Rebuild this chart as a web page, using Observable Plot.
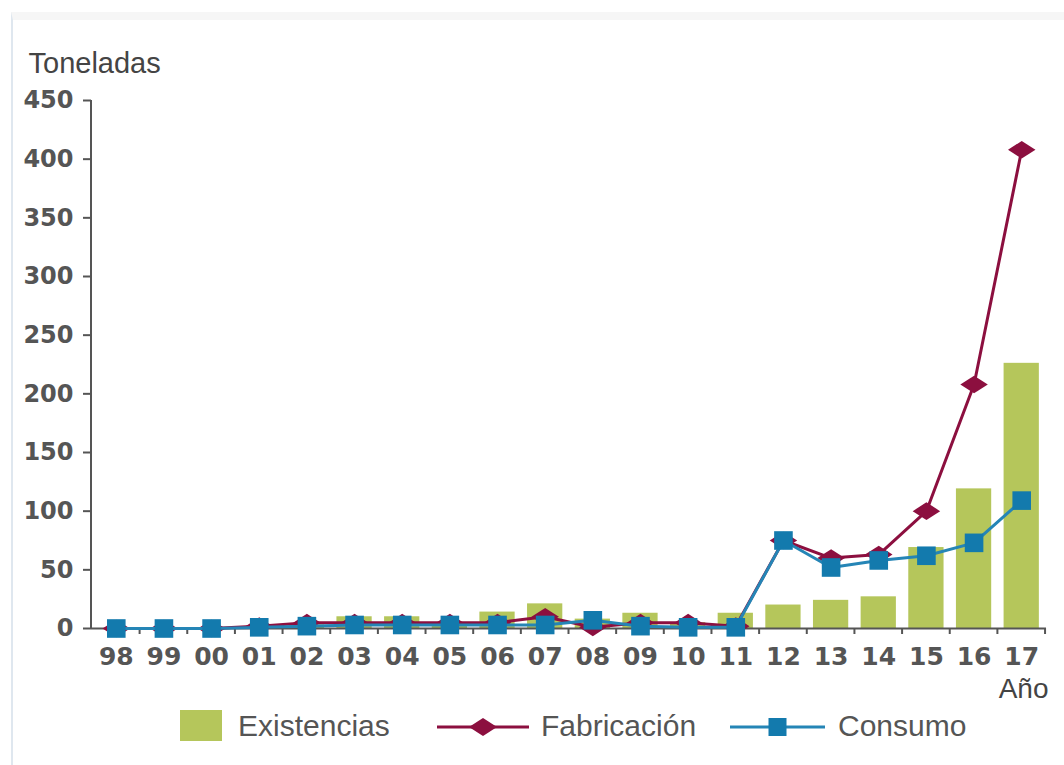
<!DOCTYPE html>
<html><head><meta charset="utf-8">
<script src="https://cdn.jsdelivr.net/npm/d3@7"></script>
<script src="https://cdn.jsdelivr.net/npm/@observablehq/plot@0.6"></script>
<style>
body{margin:0;background:#fff;width:1064px;height:765px;overflow:hidden;position:relative;font-family:"Liberation Sans",Arial,sans-serif}
#chart{position:absolute;left:0;top:0}
#frame{position:absolute;left:11px;top:12px;width:1053px;height:760px;border-left:2px solid #dfe7ef;border-top:8px solid #f6f6f6}
.lg{position:absolute;font-size:30px;line-height:34px;color:#555;white-space:nowrap}
</style></head><body>
<div id="frame"></div>
<div id="chart"></div>
<div id="legend"></div>
<script>
const years = ["98","99","00","01","02","03","04","05","06","07","08","09","10","11","12","13","14","15","16","17"];
const existencias = [0, 0, 0, 1, 3, 10, 10, 5, 14, 21, 8, 13, 5, 13, 20, 24, 27, 69, 119, 226];
const fabricacion = [0, 0, 0, 2, 5, 5, 5, 5, 5, 10, 1, 5, 5, 2, 75, 60, 63, 100, 208, 408];
const consumo = [0, 0, 0, 1, 2, 3, 3, 3, 3, 3, 7, 2, 1, 1, 75, 52, 58, 62, 73, 109];
const yTicks = [0, 50, 100, 150, 200, 250, 300, 350, 400, 450];
const seriesNames = ["Existencias", "Fabricación", "Consumo"];
const colors = ["#b5c65b", "#8c0f3f", "#137aad"];
const yTitle = "Toneladas";
const xTitle = "Año";

const data = years.map((y, i) => ({year: y, existencias: existencias[i], fabricacion: fabricacion[i], consumo: consumo[i]}));

const wideDiamond = {draw(ctx, size) {
  const r = Math.sqrt(size / Math.PI), w = r * 1.25, h = r * 0.8;
  ctx.moveTo(0, -h); ctx.lineTo(w, 0); ctx.lineTo(0, h); ctx.lineTo(-w, 0); ctx.closePath();
}};

const NS = "http://www.w3.org/2000/svg";
function leftAxisLine(index, scales, values, dims) {
  const g = document.createElementNS(NS, "g");
  const l = document.createElementNS(NS, "line");
  const y0 = scales.y(0), y1 = scales.y(450);
  l.setAttribute("x1", dims.marginLeft); l.setAttribute("x2", dims.marginLeft);
  l.setAttribute("y1", y0); l.setAttribute("y2", y1);
  l.setAttribute("stroke", "#555"); l.setAttribute("stroke-width", 2);
  g.appendChild(l);
  return g;
}
function bandTicks(index, scales, values, dims) {
  const g = document.createElementNS(NS, "g");
  const x = scales.x, y0 = scales.y(0);
  const bw = x.bandwidth ? x.bandwidth() : 35;
  const step = x.step ? x.step() : 47.5;
  const edges = years.map(d => x(d) - (step - bw) / 2);
  edges.push(x(years[years.length - 1]) + bw + (step - bw) / 2);
  for (const e of edges.slice(1)) {
    const l = document.createElementNS(NS, "line");
    l.setAttribute("x1", e); l.setAttribute("x2", e);
    l.setAttribute("y1", y0); l.setAttribute("y2", y0 + 6);
    l.setAttribute("stroke", "#555"); l.setAttribute("stroke-width", 2);
    g.appendChild(l);
  }
  return g;
}

const plot = Plot.plot({
  width: 1064, height: 700,
  marginTop: 100, marginBottom: 72, marginLeft: 91, marginRight: 18,
  style: {fontFamily: "DejaVu Sans", fontWeight: "bold", color: "#555", background: "transparent", overflow: "visible"},
  x: {type: "band", domain: years, paddingInner: 0.26, paddingOuter: 0.15, round: false, label: null},
  y: {domain: [0, 450], label: null},
  marks: [
    Plot.barY(data, {x: "year", y: "existencias", fill: colors[0]}),
    Plot.ruleY([0], {stroke: "#555", strokeWidth: 2}),
    leftAxisLine,
    bandTicks,
    Plot.axisY({ticks: yTicks, tickSize: 8, tickPadding: 10, fontSize: 24, strokeWidth: 2, label: null}),
    Plot.axisX({tickSize: 0, tickPadding: 19, fontSize: 25, label: null}),
    Plot.line(data, {x: "year", y: "fabricacion", stroke: colors[1], strokeWidth: 3}),
    Plot.dot(data, {x: "year", y: "fabricacion", symbol: wideDiamond, r: 11, fill: colors[1], stroke: "none"}),
    Plot.line(data, {x: "year", y: "consumo", stroke: "#2585b6", strokeWidth: 3}),
    Plot.dot(data, {x: "year", y: "consumo", symbol: "square", r: 10.5, fill: colors[2], stroke: "none"}),
    Plot.text([yTitle], {frameAnchor: "top-left", dx: -63, dy: -48, textAnchor: "start", fontSize: 29, fontWeight: "normal", fill: "#444", fontFamily: "Liberation Sans"}),
    Plot.text([xTitle], {frameAnchor: "bottom-right", dx: 2, dy: 69, textAnchor: "end", fontSize: 28, fontWeight: "normal", fill: "#444", fontFamily: "Liberation Sans"})
  ]
});
document.getElementById("chart").appendChild(plot);

// legend
const lg = document.getElementById("legend");
const items = [
  {sw: 180, tx: 238, kind: "bar"},
  {sw: 437, tx: 541, kind: "diamond"},
  {sw: 730, tx: 838, kind: "square"}
];
items.forEach((it, i) => {
  const s = document.createElement("div");
  s.style.position = "absolute";
  if (it.kind === "bar") {
    s.style.left = it.sw + "px"; s.style.top = "710px";
    s.style.width = "42px"; s.style.height = "31px"; s.style.background = colors[0];
  } else {
    const w = it.kind === "diamond" ? 92 : 95;
    s.style.left = it.sw + "px"; s.style.top = "712px";
    const c = it.kind === "diamond" ? colors[1] : "#2585b6";
    const mk = it.kind === "diamond"
      ? `<path d="M${w/2-14},15 L${w/2},6 L${w/2+14},15 L${w/2},24 Z" fill="${colors[1]}"/>`
      : `<rect x="${w/2-9}" y="6" width="18" height="18" fill="${colors[2]}"/>`;
    s.innerHTML = `<svg width="${w}" height="30"><line x1="0" x2="${w}" y1="15" y2="15" stroke="${c}" stroke-width="3"/>${mk}</svg>`;
  }
  lg.appendChild(s);
  const t = document.createElement("div");
  t.className = "lg"; t.style.left = it.tx + "px"; t.style.top = "709px";
  t.textContent = seriesNames[i];
  lg.appendChild(t);
});
</script>
</body></html>
